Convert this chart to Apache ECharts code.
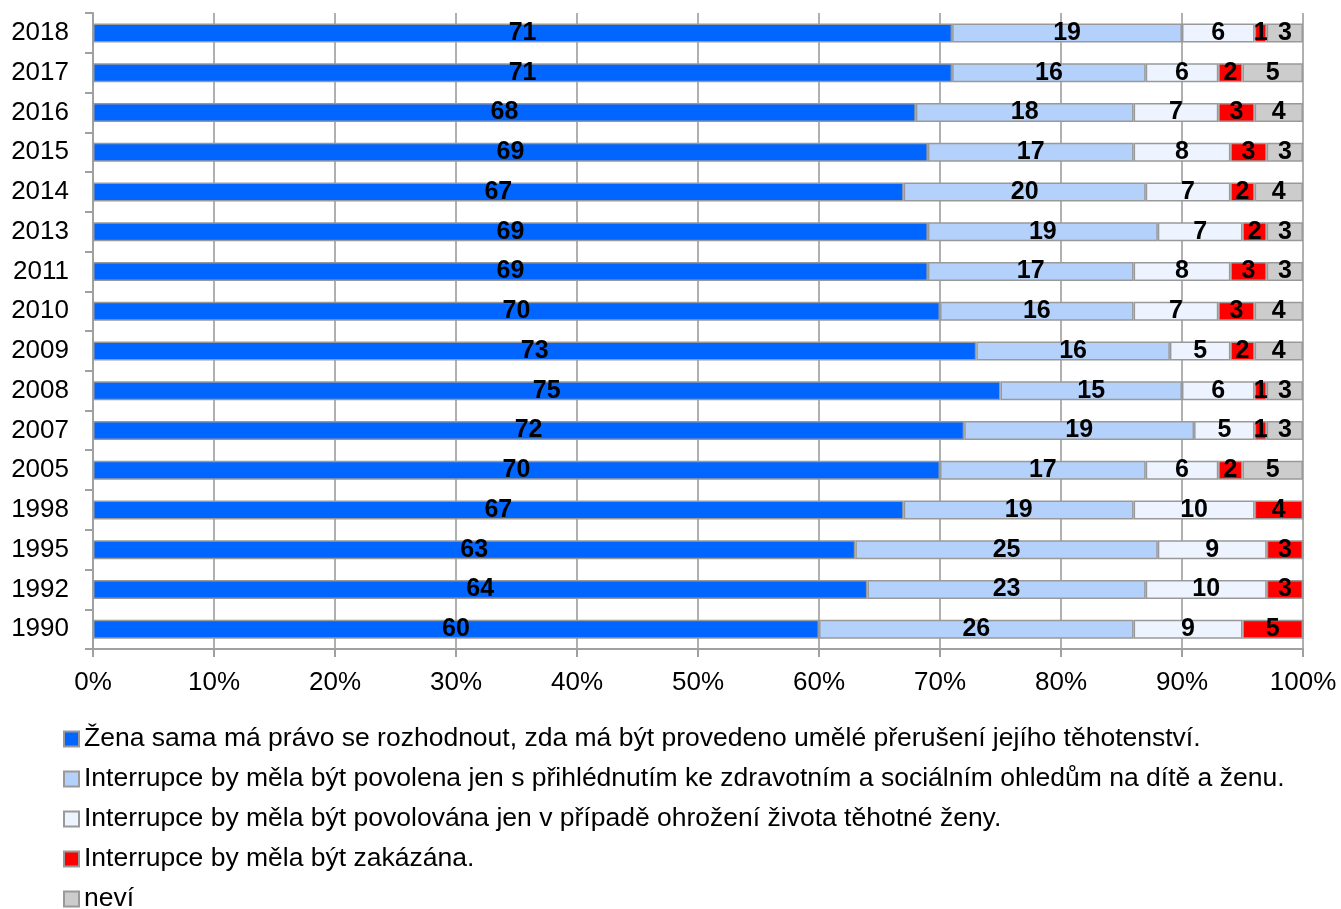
<!DOCTYPE html>
<html>
<head>
<meta charset="utf-8">
<script src="https://cdn.jsdelivr.net/npm/echarts@6/dist/echarts.min.js"></script>
<style>html,body{margin:0;padding:0;background:#fff}#c{width:1341px;height:909px}</style>
</head>
<body>
<div id="c"></div>
<script>
const years = ['2018','2017','2016','2015','2014','2013','2011','2010','2009','2008','2007','2005','1998','1995','1992','1990'];
const seriesNames = [
  'Žena sama má právo se rozhodnout, zda má být provedeno umělé přerušení jejího těhotenství.',
  'Interrupce by měla být povolena jen s přihlédnutím ke zdravotním a sociálním ohledům na dítě a ženu.',
  'Interrupce by měla být povolována jen v případě ohrožení života těhotné ženy.',
  'Interrupce by měla být zakázána.',
  'neví'
];
const zenaSama   = [71,71,68,69,67,69,69,70,73,75,72,70,67,63,64,60];
const sOhledy    = [19,16,18,17,20,19,17,16,16,15,19,17,19,25,23,26];
const ohrozeni   = [6,6,7,8,7,7,8,7,5,6,5,6,10,9,10,9];
const zakazana   = [1,2,3,3,2,2,3,3,2,1,1,2,4,3,3,5];
const nevi       = [3,5,4,3,4,3,3,4,4,3,3,5,0,0,0,0];
const xTicks = ['0%','10%','20%','30%','40%','50%','60%','70%','80%','90%','100%'];
const colors = ['#0066FF','#B3D1FA','#EEF4FF','#FF0000','#CCCCCC'];
const allData = [zenaSama, sOhledy, ohrozeni, zakazana, nevi];

const chart = echarts.init(document.getElementById('c'));
const font = 'Liberation Sans, Arial, sans-serif';
chart.setOption({
  animation: false,
  textStyle: { fontFamily: font },
  grid: { left: 93, right: 38, top: 13, bottom: 260, containLabel: false },
  xAxis: {
    type: 'value', min: 0, max: 100, interval: 10,
    axisLine: { show: true, lineStyle: { color: '#A0A0A0', width: 2 } },
    axisTick: { show: true, length: 8, lineStyle: { color: '#A0A0A0', width: 2 } },
    splitLine: { show: true, lineStyle: { color: '#B0B0B0', width: 2 } },
    axisLabel: { color: '#000', fontSize: 26, margin: 21, fontFamily: font,
      formatter: function (v) { return xTicks[Math.round(v / 10)]; } }
  },
  yAxis: {
    type: 'category', data: years, inverse: true,
    axisLine: { show: true, lineStyle: { color: '#A0A0A0', width: 2 } },
    axisTick: { show: true, length: 8, lineStyle: { color: '#A0A0A0', width: 2 } },
    axisLabel: { color: '#000', fontSize: 26, margin: 24, fontFamily: font }
  },
  legend: {
    orient: 'vertical', left: 58, top: 720, height: 200,
    itemWidth: 15, itemHeight: 15, itemGap: 12,
    icon: 'rect',
    textStyle: { color: '#000', fontSize: 26.5, lineHeight: 28, fontFamily: font },
    data: seriesNames
  },
  series: allData.map(function (d, i) {
    return {
      name: seriesNames[i], type: 'bar', stack: 'all', data: d,
      barWidth: 19,
      itemStyle: { color: colors[i], borderColor: '#999', borderWidth: 1.5 },
      label: {
        show: true, position: 'inside', color: '#000', fontWeight: 'bold',
        fontSize: 25, fontFamily: font,
        formatter: function (p) { return p.value ? String(p.value) : ''; }
      }
    };
  })
});
</script>
</body>
</html>
